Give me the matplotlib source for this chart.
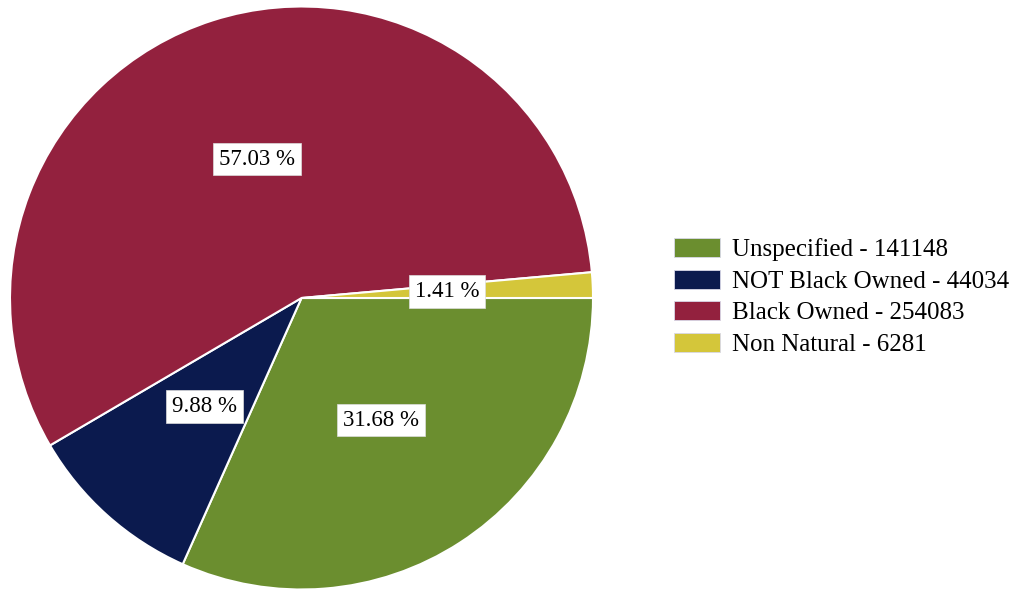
import matplotlib
matplotlib.use("Agg")
import matplotlib.pyplot as plt
from matplotlib.patches import Patch

categories = ["Unspecified", "NOT Black Owned", "Black Owned", "Non Natural"]
counts = [141148, 44034, 254083, 6281]
colors = ["#6b8e2f", "#0b1a4e", "#93213e", "#d4c63a"]

plt.rcParams["font.family"] = ["Liberation Serif", "DejaVu Serif"]

W, H = 1018, 590
fig = plt.figure(figsize=(W / 100, H / 100), dpi=100)

cx, cy, r = 301.5, 298.0, 291.5
ax = fig.add_axes([(cx - r) / W, (H - cy - r) / H, 2 * r / W, 2 * r / H])

wedges, texts, autotexts = ax.pie(
    counts,
    colors=colors,
    startangle=0,
    counterclock=False,
    radius=1.0,
    autopct=lambda p: f"{p:.2f} %",
    pctdistance=0.5,
    wedgeprops=dict(edgecolor="white", linewidth=1.5),
    textprops=dict(fontsize=16.5, color="black"),
)
for t in autotexts:
    t.set_bbox(dict(facecolor="white", edgecolor="#dddddd", linewidth=0.5,
                    boxstyle="square,pad=0.25"))
ax.set_xlim(-1, 1)
ax.set_ylim(-1, 1)
ax.set_aspect("equal")
ax.axis("off")

handles = [Patch(facecolor=c, edgecolor="#d8d8e8", linewidth=0.6) for c in colors]
labels = [f"{n} - {v}" for n, v in zip(categories, counts)]
fig.legend(
    handles, labels,
    loc="upper left",
    bbox_to_anchor=(674 / W, 1 - 238 / H),
    frameon=False,
    fontsize=18,
    handlelength=1.84,
    handleheight=0.8,
    handletextpad=0.48,
    labelspacing=0.33,
    borderaxespad=0,
    borderpad=0,
)

fig.savefig("out.png", dpi=100)
